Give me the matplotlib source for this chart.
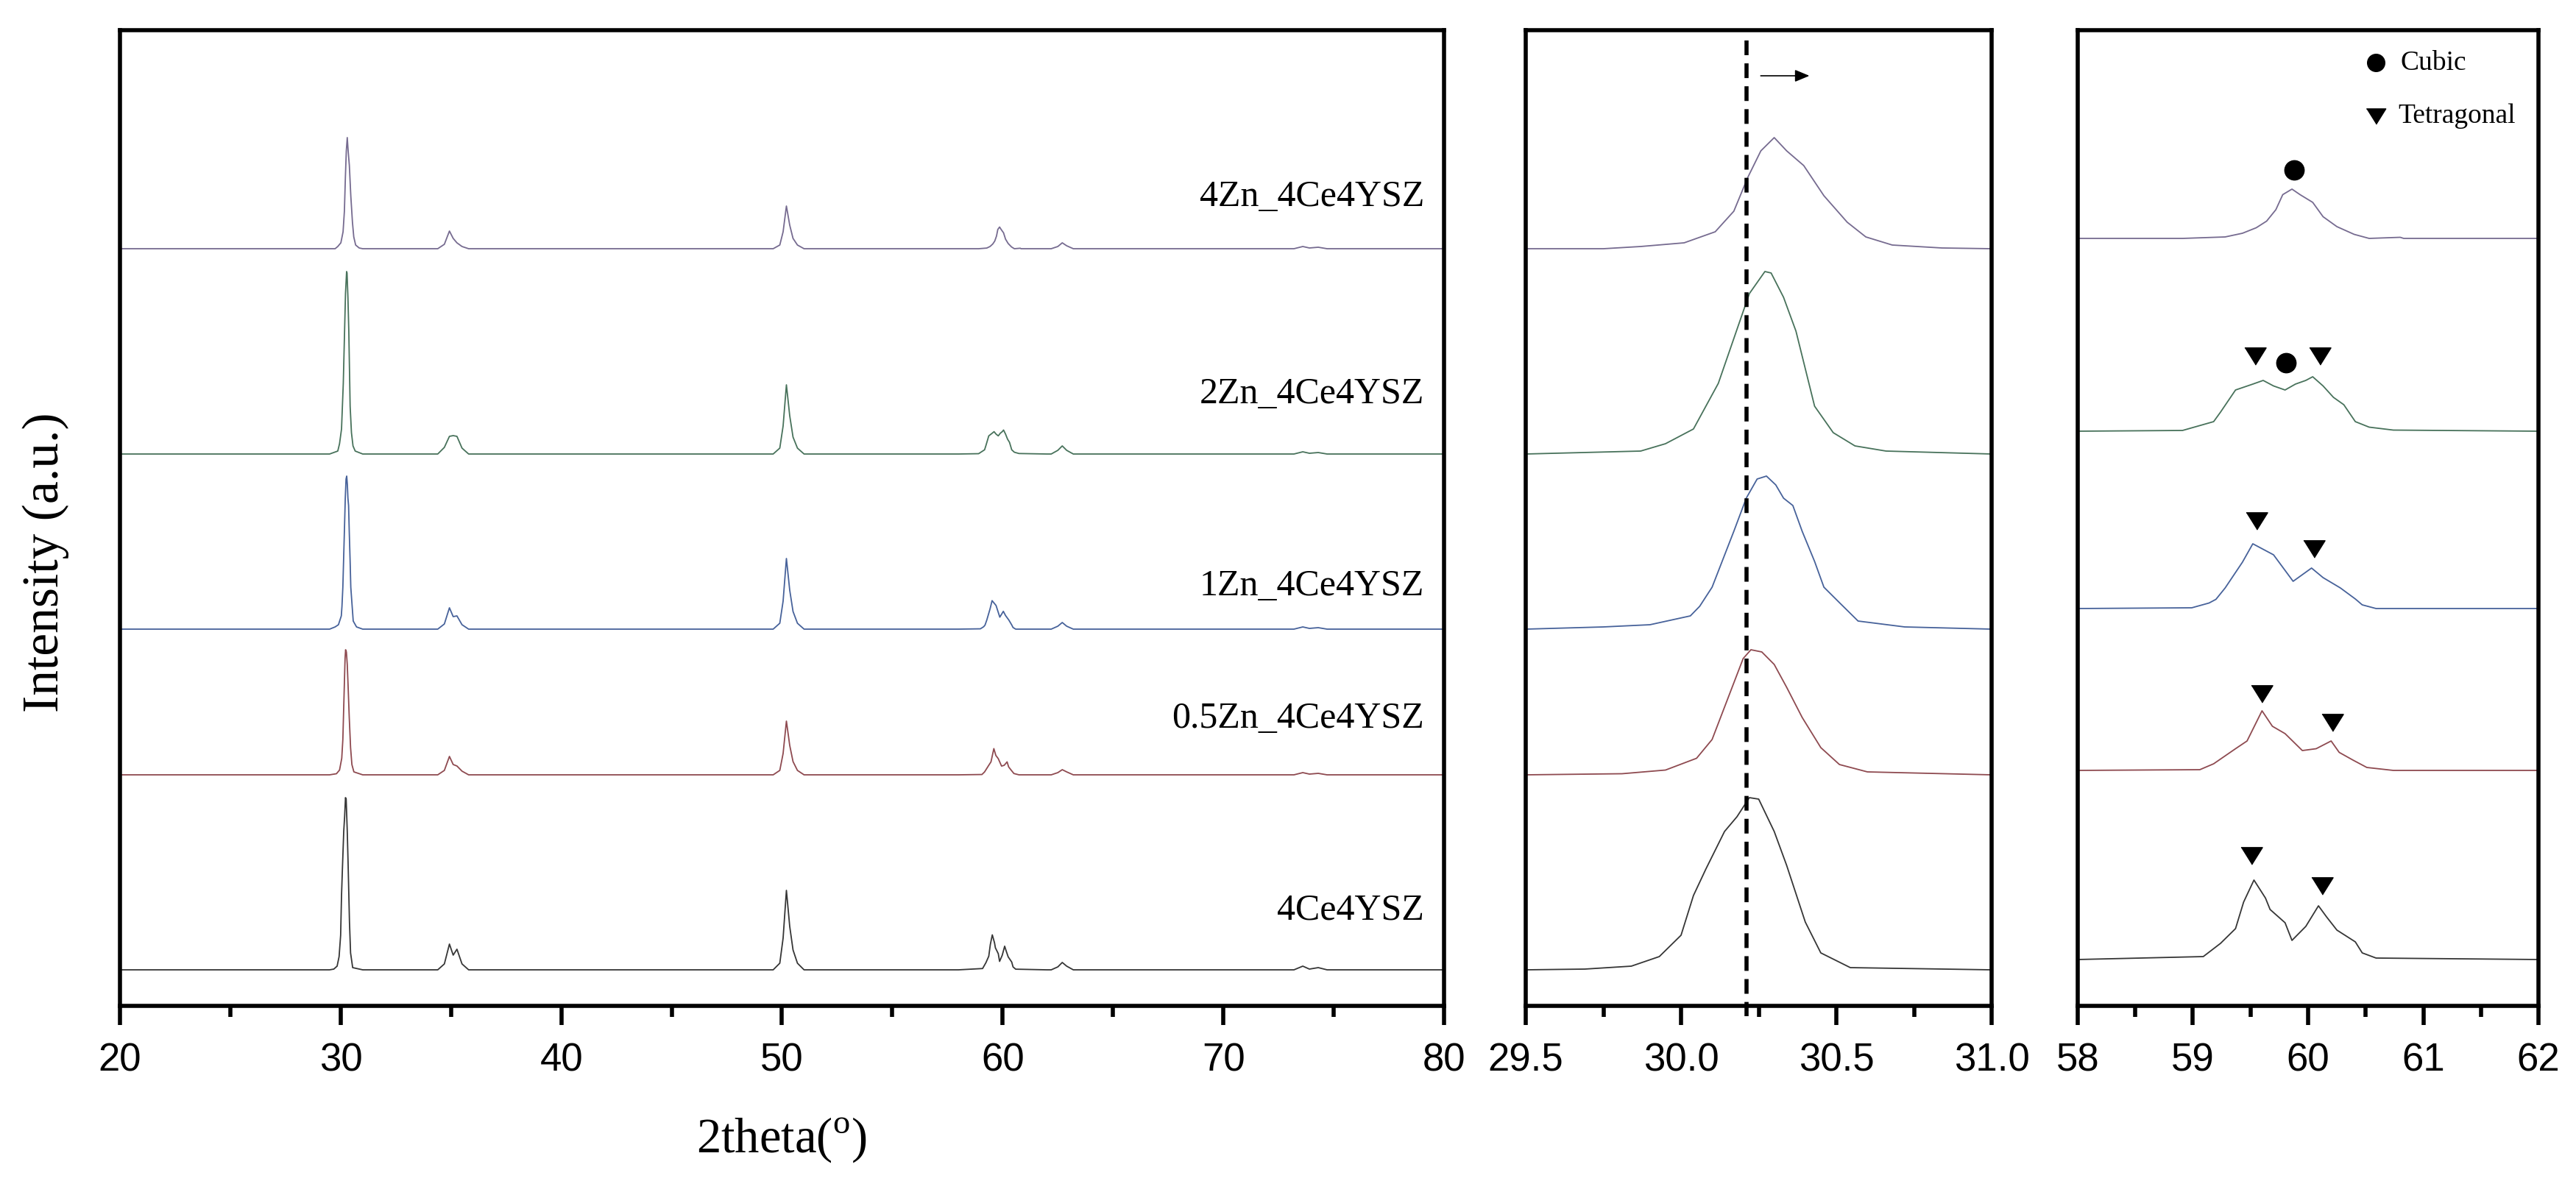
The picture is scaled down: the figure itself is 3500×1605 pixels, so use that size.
import numpy as np
import matplotlib
matplotlib.use('Agg')
import matplotlib.pyplot as plt
from matplotlib.ticker import MultipleLocator, FormatStrFormatter

plt.rcParams['font.family'] = ['Liberation Sans', 'DejaVu Sans']
plt.rcParams['mathtext.fontset'] = 'custom'
plt.rcParams['mathtext.rm'] = 'Liberation Serif'

# samples, bottom to top
samples = ['4Ce4YSZ', '0.5Zn_4Ce4YSZ', '1Zn_4Ce4YSZ', '2Zn_4Ce4YSZ', '4Zn_4Ce4YSZ']
colors = ['#363636', '#8e4a50', '#47629a', '#48725b', '#766b90']

# (111) peak region, 29.5 - 31.0 (middle panel)
mid_x = [
    [29.5, 29.69, 29.84, 29.93, 30.00, 30.04, 30.08, 30.14, 30.18, 30.22, 30.25, 30.30, 30.34, 30.40, 30.45, 30.545, 31.0],
    [29.5, 29.81, 29.95, 30.05, 30.10, 30.16, 30.20, 30.225, 30.26, 30.30, 30.34, 30.39, 30.45, 30.51, 30.60, 31.0],
    [29.5, 29.75, 29.9, 30.03, 30.06, 30.10, 30.17, 30.21, 30.245, 30.275, 30.305, 30.33, 30.36, 30.39, 30.43, 30.46, 30.51, 30.57, 30.72, 31.0],
    [29.5, 29.87, 29.95, 30.04, 30.12, 30.17, 30.22, 30.27, 30.29, 30.33, 30.37, 30.40, 30.43, 30.49, 30.56, 30.66, 31.0],
    [29.5, 29.75, 29.87, 30.01, 30.11, 30.17, 30.215, 30.257, 30.30, 30.34, 30.395, 30.46, 30.535, 30.595, 30.68, 30.84, 31.0],
]
mid_y = [
    [0, 1, 5, 18, 47, 101, 137, 188, 208, 234, 232, 188, 142, 65, 23, 3, 0],
    [0, 1.5, 6.5, 22.5, 48, 114, 158, 170, 167, 150, 119, 78, 37, 14, 4, 0],
    [0, 3, 6, 18, 31, 57, 133, 178, 204, 208, 196, 178, 168, 133, 92, 57, 36, 11, 3, 0],
    [0, 4, 14, 34, 96, 157, 218, 248, 246, 213, 167, 116, 65, 29, 11, 4, 0],
    [0, 0, 3, 8, 23, 51, 97, 133, 151, 133, 113, 72, 36, 16, 5, 1, 0],
]

# 58 - 62 region (right panel, zoomed intensity)
rt_x = [
    [58.0, 59.09, 59.24, 59.37, 59.44, 59.53, 59.63, 59.67, 59.80, 59.86, 59.98, 60.09, 60.16, 60.25, 60.41, 60.47, 60.59, 62.0],
    [58.0, 59.06, 59.18, 59.37, 59.47, 59.60, 59.69, 59.80, 59.95, 60.07, 60.20, 60.27, 60.39, 60.51, 60.74, 62.0],
    [58.0, 58.99, 59.14, 59.20, 59.28, 59.43, 59.52, 59.70, 59.87, 60.03, 60.13, 60.28, 60.41, 60.47, 60.59, 62.0],
    [58.0, 58.91, 59.18, 59.24, 59.37, 59.52, 59.61, 59.70, 59.80, 59.89, 59.98, 60.04, 60.13, 60.22, 60.31, 60.41, 60.53, 60.74, 62.0],
    [58.0, 58.91, 59.28, 59.43, 59.55, 59.64, 59.72, 59.78, 59.86, 59.93, 60.04, 60.13, 60.25, 60.40, 60.53, 60.80, 60.83, 62.0],
]
rt_y = [
    [0, 4, 22, 42, 78, 108, 83.5, 68, 50, 26, 45, 73, 58, 40, 24, 9, 2, 0],
    [0, 1, 9, 29.5, 40, 81, 60, 50, 27, 29.5, 40, 24.5, 14, 4, 0, 0],
    [0, 1, 7.5, 12.5, 28, 63, 88, 73, 37, 55, 42, 28, 13, 5, 0, 0],
    [0, 1, 13, 26, 56, 64, 69, 61.5, 56, 64, 69, 74, 61.5, 46, 36, 13, 5.5, 1.5, 0],
    [0, 0, 2, 7, 14.5, 23.5, 39, 59.5, 67, 59.5, 49, 29.5, 16, 5.5, 0, 1.5, 0, 0],
]
rt_scale = 0.44  # right panel intensity -> full pattern intensity

# other reflections in the full pattern
p35_x = [34.4, 34.7, 34.93, 35.1, 35.27, 35.5, 35.8]
p35_y = [[0, 8, 35, 20, 28, 8, 0], [0, 6, 25, 14, 12, 5, 0], [0, 7, 29, 17, 18, 6, 0],
         [0, 9, 24, 25, 24, 8, 0], [0, 6, 24, 14, 8, 3, 0]]
p50_x = [49.6, 49.9, 50.05, 50.2, 50.35, 50.5, 50.7, 51.0]
p50_y = [[0, 9, 43, 108, 59, 27, 9, 0], [0, 6, 29, 73, 40, 18, 6, 0], [0, 8, 38, 96, 53, 24, 8, 0],
         [0, 8, 38, 94, 52, 23, 8, 0], [0, 5, 23, 58, 32, 14, 5, 0]]
p63_x = [62.2, 62.5, 62.7, 62.9, 63.2]
p63_y = [[0, 4, 10, 5, 0], [0, 3, 7, 4, 0], [0, 4, 9, 4, 0], [0, 5, 11, 5, 0], [0, 3, 8, 4, 0]]
p74_x = [73.2, 73.6, 73.9, 74.3, 74.7]
p74_y = [[0, 5, 1, 3, 0], [0, 3, 1, 2, 0], [0, 3, 1, 2, 0], [0, 3, 1, 2, 0], [0, 3, 1, 2, 0]]

# phase markers (right panel)
cubic_x = [59.88, 59.81]
cubic_y = [1136, 874]
tetra_x = [59.54, 60.10, 59.55, 60.05, 59.60, 60.21, 59.51, 60.12]
tetra_y = [883, 883, 659, 621, 424, 385.5, 204, 163]

# stacking offsets
off_main = [49, 314, 512, 750, 1029]
off_right = [63, 320, 540, 781, 1043]
label_y = [131, 391, 571, 832, 1100]

tri = [(-1, 0.8), (1, 0.8), (0, -0.8)]
serif = ['Liberation Serif', 'DejaVu Serif']

fig = plt.figure(figsize=(35, 16.06), dpi=100)
ax1 = fig.add_axes([0.04657, 0.14819, 0.51400, 0.82566])
ax2 = fig.add_axes([0.59229, 0.14819, 0.18086, 0.82566])
ax3 = fig.add_axes([0.80657, 0.14819, 0.17886, 0.82566])

for i in range(len(samples)):
    # full pattern: join the segments
    xs = [20.0] + p35_x + p50_x + p63_x + p74_x + [80.0]
    ys = [0] + p35_y[i] + p50_y[i] + p63_y[i] + p74_y[i] + [0]
    xs = xs + mid_x[i] + rt_x[i]
    ys = ys + mid_y[i] + [v * rt_scale for v in rt_y[i]]
    order = np.argsort(xs, kind='stable')
    x = np.array(xs)[order]
    y = np.array(ys, dtype=float)[order]
    ax1.plot(x, y + off_main[i], color=colors[i], lw=1.3)
    ax1.text(79.1, label_y[i], samples[i], ha='right', va='center',
             fontsize=36, family=serif)

    ax2.plot(mid_x[i], np.array(mid_y[i]) + off_main[i], color=colors[i], lw=1.3)
    ax3.plot(rt_x[i], np.array(rt_y[i]) + off_right[i], color=colors[i], lw=1.3)

# dashed reference line and shift arrow
ax2.plot([30.21, 30.21], [1312, -14], color='black', lw=4,
         linestyle=(0, (3.6, 2.0)), clip_on=False)
ax2.annotate('', xy=(30.42, 1264), xytext=(30.25, 1264),
             arrowprops=dict(arrowstyle='-|>,head_length=0.6,head_width=0.25',
                             color='black', lw=1.2, mutation_scale=20))

ax3.plot(cubic_x, cubic_y, 'o', color='black', ms=19, ls='none')
ax3.plot(tetra_x, tetra_y, marker=tri, color='black', ms=21, ls='none')

# legend drawn by hand
ax3.plot([60.59], [1282], 'o', color='black', ms=17)
ax3.plot([60.59], [1209], marker=tri, color='black', ms=19)
ax3.text(60.80, 1282, 'Cubic', va='center', ha='left', fontsize=27, family=serif)
ax3.text(60.78, 1210, 'Tetragonal', va='center', ha='left', fontsize=27, family=serif)

ax1.set_xlim(20, 80)
ax1.xaxis.set_major_locator(MultipleLocator(10))
ax1.xaxis.set_minor_locator(MultipleLocator(5))
ax2.set_xlim(29.5, 31.0)
ax2.xaxis.set_major_locator(MultipleLocator(0.5))
ax2.xaxis.set_minor_locator(MultipleLocator(0.25))
ax2.xaxis.set_major_formatter(FormatStrFormatter('%.1f'))
ax3.set_xlim(58, 62)
ax3.xaxis.set_major_locator(MultipleLocator(1))
ax3.xaxis.set_minor_locator(MultipleLocator(0.5))

for ax in (ax1, ax2, ax3):
    ax.set_ylim(0, 1326)
    ax.set_yticks([])
    for s in ax.spines.values():
        s.set_linewidth(4)
    ax.tick_params(axis='x', which='major', direction='out', length=19, width=4,
                   labelsize=38, pad=16)
    ax.tick_params(axis='x', which='minor', direction='out', length=11, width=4)

fig.text(0.0177, 0.5243, 'Intensity (a.u.)', rotation=90, ha='center', va='center',
         fontsize=50, family=serif)
fig.text(0.3034, 0.035, r'2theta($^{\mathrm{o}}$)', ha='center', va='center',
         fontsize=48, family=serif)

fig.savefig('out.png', dpi=100)
